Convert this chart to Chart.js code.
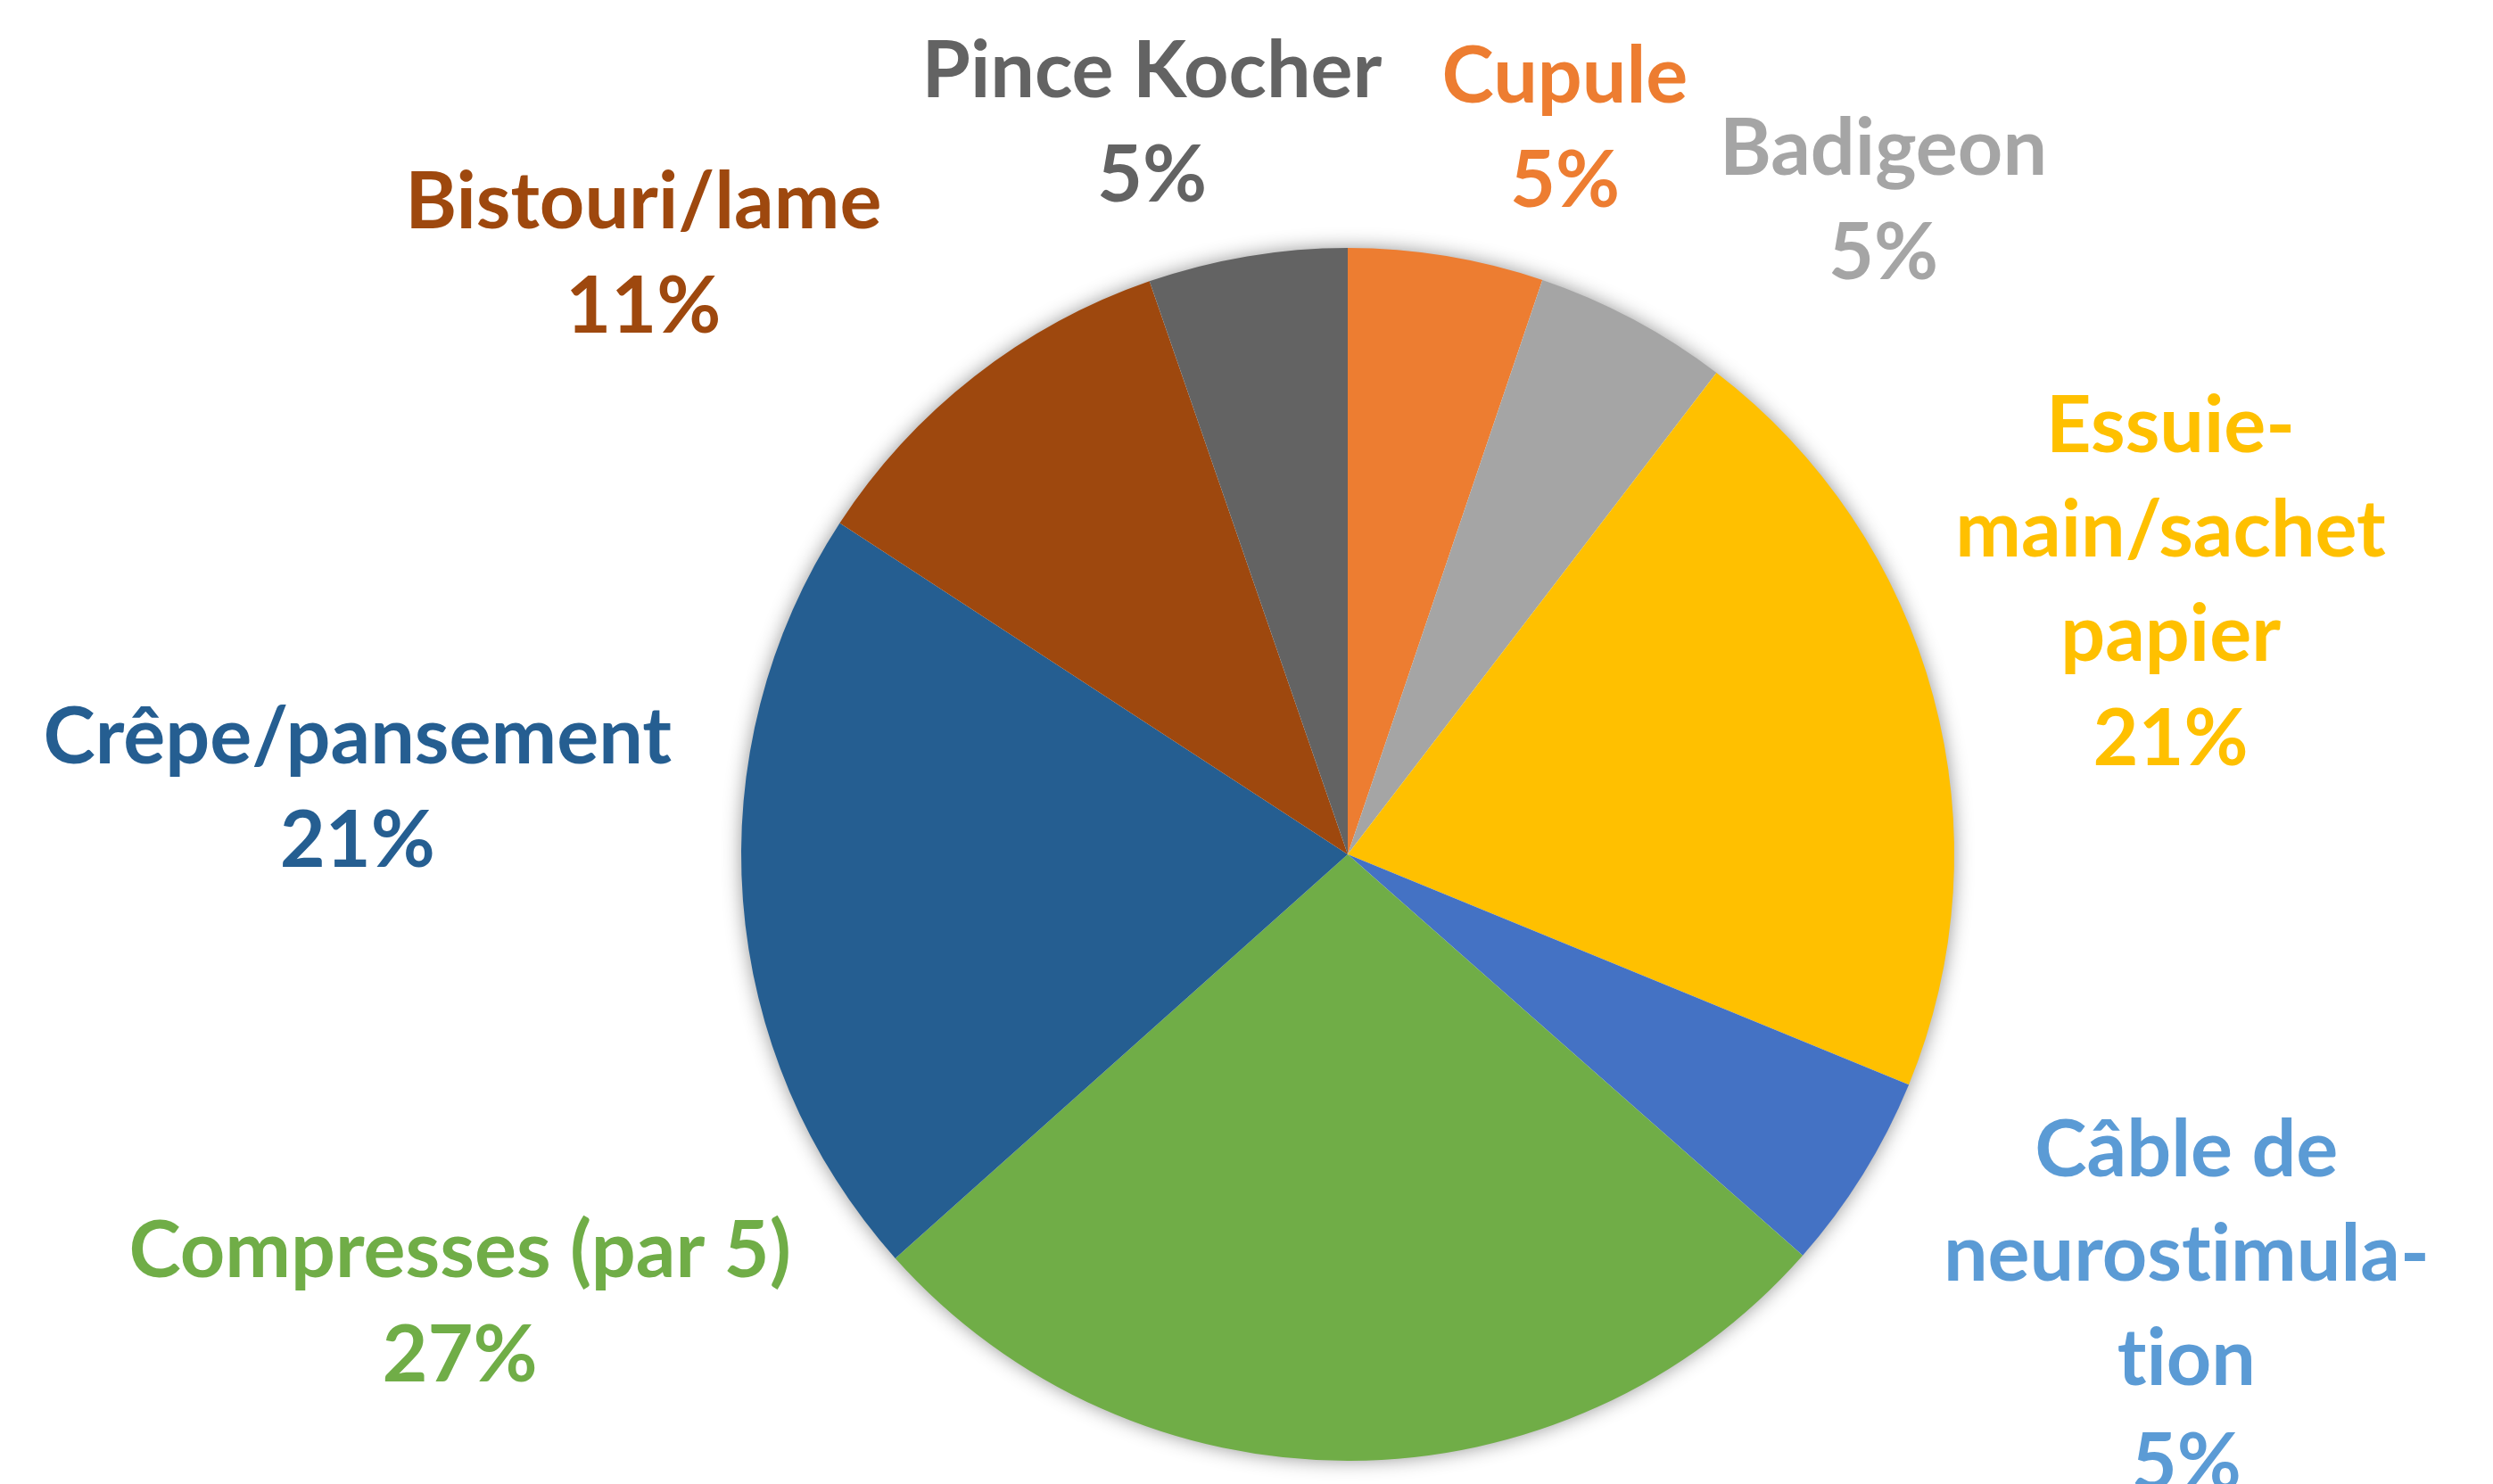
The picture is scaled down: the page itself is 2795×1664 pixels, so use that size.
<!DOCTYPE html>
<html>
<head>
<meta charset="utf-8">
<script src="https://cdn.jsdelivr.net/npm/chart.js@4/dist/chart.umd.min.js"></script>
<style>
  html, body { margin: 0; padding: 0; background: #ffffff; }
  #wrap { width: 2795px; height: 1664px; }
  canvas { font-variant-ligatures: none; }
</style>
</head>
<body>
<div id="wrap"><canvas id="c" width="2795" height="1664"></canvas></div>
<script>
// ---- data ----
const categories = ['Cupule', 'Badigeon', 'Essuie-main/sachet papier', 'Câble de neurostimulation', 'Compresses (par 5)', 'Crêpe/pansement', 'Bistouri/lame', 'Pince Kocher'];
const labelLines = [['Cupule'], ['Badigeon'], ['Essuie-', 'main/sachet', 'papier'], ['Câble de', 'neurostimula-', 'tion'], ['Compresses (par 5)'], ['Crêpe/pansement'], ['Bistouri/lame'], ['Pince Kocher']];
const values = [5.2, 5.2, 20.8, 5.3, 26.9, 20.8, 10.5, 5.3];
const sliceColors = ['#ED7D31', '#A5A5A5', '#FFC000', '#4472C4', '#70AD47', '#255E91', '#9E480E', '#636363'];
const labelColors = ['#ED7D31', '#A5A5A5', '#FFC000', '#5B9BD5', '#70AD47', '#255E91', '#9E480E', '#636363'];
// label placement (polar, relative to pie centre: degrees clockwise from top, distance in radii)
const labelAngles = [17.24, 40.49, 73.37, 119.70, 241.86, 272.27, 309.18, 344.48];
const labelDistances = [1.208, 1.360, 1.416, 1.592, 1.660, 1.634, 1.498, 1.2065];

const shadowPlugin = {
  id: 'pieShadow',
  beforeDatasetsDraw(chart) {
    const arc = chart.getDatasetMeta(0).data[0];
    if (!arc) return;
    const ctx = chart.ctx;
    ctx.save();
    ctx.shadowColor = 'rgba(0,0,0,0.45)';
    ctx.shadowBlur = 22;
    ctx.shadowOffsetX = 0;
    ctx.shadowOffsetY = 0;
    ctx.fillStyle = '#ffffff';
    ctx.beginPath();
    ctx.arc(arc.x, arc.y, arc.outerRadius - 1, 0, Math.PI * 2);
    ctx.fill();
    ctx.restore();
  }
};

// break the "ti" ligature of the substitute font with a zero-width non-joiner
function noLig(t) { return t.replace(/t(?=i)/g, 't\u200C'); }

const labelPlugin = {
  id: 'outLabels',
  afterDatasetsDraw(chart) {
    const meta = chart.getDatasetMeta(0);
    const ctx = chart.ctx;
    const total = values.reduce((a, b) => a + b, 0);
    meta.data.forEach((arc, i) => {
      const R = arc.outerRadius;
      const a = labelAngles[i] * Math.PI / 180;
      const d = labelDistances[i] * R;
      const ax = arc.x + Math.sin(a) * d;
      const ay = arc.y - Math.cos(a) * d;
      const pct = Math.round(values[i] / total * 100 + 1e-6) + '%';
      const lines = labelLines[i].concat([pct]);
      const lh = R * 0.172;
      ctx.save();
      ctx.font = 'bold 88px Lato, "Open Sans", sans-serif';
      ctx.fillStyle = labelColors[i];
      ctx.textAlign = 'center';
      ctx.textBaseline = 'alphabetic';
      const n = lines.length;
      lines.forEach((t, k) => {
        ctx.fillText(noLig(t), ax, ay + (k - (n - 1) / 2) * lh);
      });
      ctx.restore();
    });
  }
};

new Chart(document.getElementById('c'), {
  type: 'pie',
  data: {
    labels: categories,
    datasets: [{
      data: values,
      backgroundColor: sliceColors,
      borderWidth: 0
    }]
  },
  options: {
    responsive: false,
    animation: false,
    devicePixelRatio: 1,
    layout: { padding: { top: 278, bottom: 26, left: 831, right: 604 } },
    plugins: {
      legend: { display: false },
      tooltip: { enabled: false }
    }
  },
  plugins: [shadowPlugin, labelPlugin]
});
</script>
</body>
</html>
